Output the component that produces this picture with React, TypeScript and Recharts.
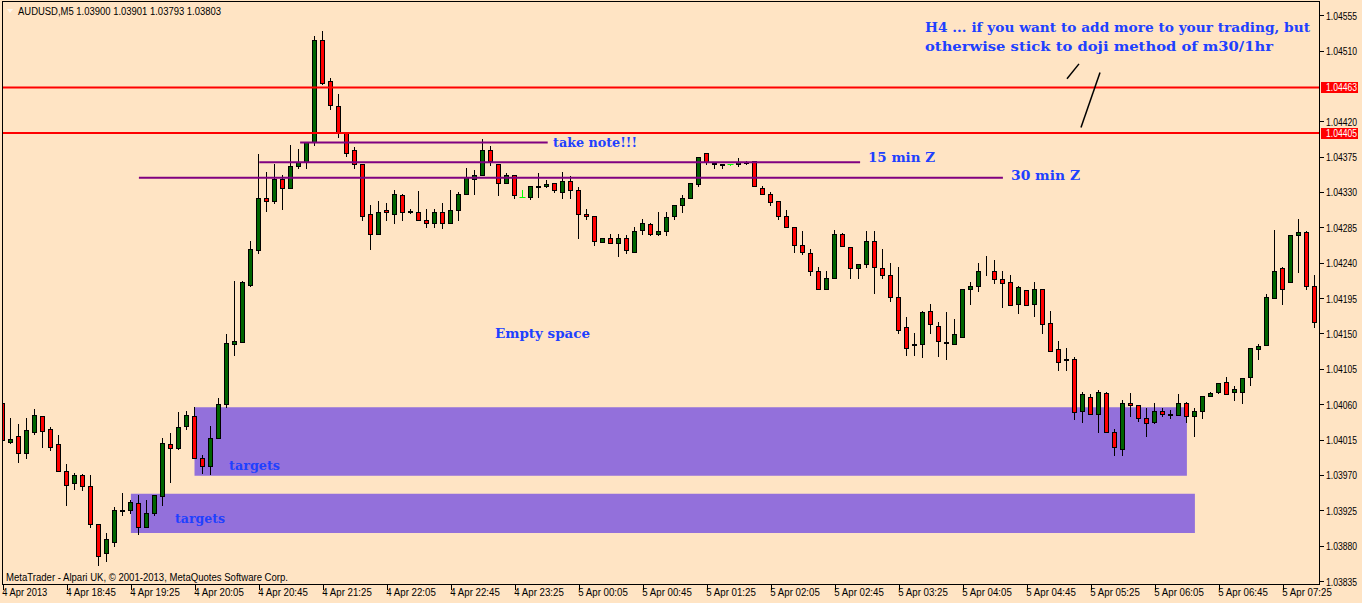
import { ComposedChart, Bar, XAxis, YAxis, ReferenceLine, ReferenceArea } from "recharts";

const W = 1362;
const H = 603;
const BG = "#FFE4C4";
const BLUE = "#2040FF";

// AUDUSD M5, one value per bar (4 Apr 18:05 .. 5 Apr 07:45)
const opens = [
  1.04061, 1.04012, 1.04019, 1.03998, 1.04025, 1.04045, 1.04029, 1.04009, 1.03975, 1.0396,
  1.0397, 1.03956, 1.03907, 1.03871, 1.03885, 1.03926, 1.03925, 1.03934, 1.03904, 1.03921,
  1.03943, 1.0401, 1.04004, 1.04032, 1.04045, 1.03992, 1.03982, 1.04017, 1.0406, 1.04137,
  1.04139, 1.04212, 1.04256, 1.04323, 1.04318, 1.04347, 1.04335, 1.04363, 1.04368, 1.04393,
  1.04523, 1.04471, 1.0444, 1.04405, 1.04383, 1.04365, 1.04302, 1.04276, 1.04307, 1.04302,
  1.04326, 1.04305, 1.04304, 1.04295, 1.04291, 1.04304, 1.0429, 1.04307, 1.04327, 1.04347,
  1.04351, 1.04383, 1.04365, 1.04342, 1.04351, 1.04324, 1.04324, 1.04336, 1.04337, 1.04341,
  1.0433, 1.04344, 1.04333, 1.04302, 1.04299, 1.04267, 1.04272, 1.04265, 1.04272, 1.04254,
  1.04282, 1.04289, 1.04277, 1.0428, 1.043, 1.04313, 1.04323, 1.0434, 1.04379, 1.04367,
  1.04364, 1.04365, 1.04365, 1.04367, 1.04369, 1.04335, 1.04327, 1.04318, 1.043, 1.04286,
  1.04263, 1.04252, 1.04229, 1.04206, 1.04221, 1.04277, 1.0426, 1.04233, 1.04239, 1.04268,
  1.04233, 1.04225, 1.04197, 1.04158, 1.04135, 1.04137, 1.04178, 1.0416, 1.04139, 1.04137,
  1.04146, 1.04207, 1.04211, 1.0423, 1.0423, 1.04219, 1.04216, 1.04188, 1.04205, 1.04188,
  1.04206, 1.04163, 1.0413, 1.04116, 1.04118, 1.04051, 1.04069, 1.04048, 1.04074, 1.04025,
  1.04003, 1.04061, 1.04059, 1.04043, 1.04037, 1.04051, 1.04046, 1.04046, 1.04062, 1.04045,
  1.04052, 1.04071, 1.04075, 1.04088, 1.04075, 1.04076, 1.04094, 1.0413, 1.04135, 1.04195,
  1.04233, 1.04215, 1.04275, 1.04279, 1.04211,
];
const highs = [
  1.04062, 1.04042, 1.04035, 1.04042, 1.04054, 1.04045, 1.04031, 1.04021, 1.03984, 1.03972,
  1.03971, 1.0397, 1.03907, 1.03896, 1.03929, 1.03947, 1.03938, 1.03944, 1.03938, 1.03944,
  1.04017, 1.04024, 1.0405, 1.04052, 1.04056, 1.03995, 1.04032, 1.04068, 1.04149, 1.04217,
  1.04217, 1.04268, 1.04378, 1.04355, 1.04366, 1.04351, 1.0439, 1.04385, 1.04393, 1.04528,
  1.04535, 1.04475, 1.04455, 1.04405, 1.04387, 1.04366, 1.04314, 1.04318, 1.04316, 1.04332,
  1.04327, 1.04308, 1.04331, 1.04309, 1.04309, 1.04316, 1.04332, 1.0433, 1.04361, 1.04358,
  1.04398, 1.04388, 1.04365, 1.04354, 1.04351, 1.04332, 1.04338, 1.04354, 1.04345, 1.04341,
  1.04355, 1.0435, 1.04336, 1.04309, 1.04299, 1.04272, 1.04276, 1.04276, 1.04275, 1.04285,
  1.04296, 1.0429, 1.04304, 1.04304, 1.04313, 1.04326, 1.04341, 1.04374, 1.0438, 1.04368,
  1.04366, 1.04365, 1.04373, 1.0437, 1.04369, 1.04337, 1.0433, 1.04318, 1.04307, 1.04286,
  1.04281, 1.04257, 1.04234, 1.04229, 1.04282, 1.04278, 1.0426, 1.04239, 1.0428, 1.04281,
  1.04257, 1.0424, 1.04235, 1.04171, 1.04151, 1.04178, 1.04187, 1.04165, 1.04177, 1.04168,
  1.04207, 1.04216, 1.0424, 1.04248, 1.04243, 1.04229, 1.04225, 1.0421, 1.04205, 1.04216,
  1.04206, 1.04179, 1.04141, 1.04131, 1.0412, 1.04075, 1.04073, 1.04078, 1.04076, 1.04029,
  1.04065, 1.04074, 1.04059, 1.04055, 1.04062, 1.04055, 1.04053, 1.04073, 1.04063, 1.04055,
  1.04071, 1.04076, 1.04087, 1.04095, 1.04083, 1.04093, 1.04132, 1.04136, 1.042, 1.04282,
  1.04234, 1.04275, 1.04296, 1.04281, 1.04225,
];
const lows = [
  1.04004, 1.04011, 1.03987, 1.03992, 1.04022, 1.04005, 1.04002, 1.03975, 1.03932, 1.03952,
  1.03951, 1.03904, 1.03855, 1.0386, 1.0388, 1.03919, 1.03921, 1.03895, 1.03904, 1.03919,
  1.03932, 1.03961, 1.04003, 1.04028, 1.03991, 1.03972, 1.03971, 1.04017, 1.04057, 1.04122,
  1.04139, 1.04211, 1.04253, 1.04306, 1.04316, 1.04309, 1.04335, 1.0436, 1.0436, 1.0439,
  1.04468, 1.04435, 1.044, 1.04376, 1.04361, 1.04295, 1.04258, 1.04276, 1.04295, 1.0429,
  1.04295, 1.04303, 1.04295, 1.04286, 1.04286, 1.04284, 1.0429, 1.04294, 1.04327, 1.04328,
  1.04351, 1.04364, 1.04326, 1.04342, 1.04322, 1.04324, 1.04321, 1.04324, 1.04336, 1.0433,
  1.04323, 1.04323, 1.04271, 1.04296, 1.04262, 1.04266, 1.04265, 1.04249, 1.04253, 1.04254,
  1.04277, 1.04275, 1.04275, 1.04275, 1.04296, 1.04304, 1.04322, 1.04338, 1.04366, 1.0436,
  1.04361, 1.04364, 1.04363, 1.04365, 1.04337, 1.04327, 1.04313, 1.04296, 1.04286, 1.04254,
  1.04251, 1.04225, 1.04206, 1.04206, 1.0422, 1.04261, 1.04221, 1.0422, 1.04235, 1.04202,
  1.04221, 1.04191, 1.04151, 1.04123, 1.04122, 1.0412, 1.0415, 1.04121, 1.04118, 1.04137,
  1.04146, 1.04188, 1.04204, 1.04225, 1.04214, 1.04184, 1.04186, 1.04176, 1.04186, 1.04172,
  1.0415, 1.04128, 1.04104, 1.04104, 1.04041, 1.04038, 1.04048, 1.04025, 1.04025, 1.03995,
  1.03996, 1.04045, 1.04039, 1.0402, 1.04036, 1.04045, 1.04042, 1.04046, 1.04038, 1.0402,
  1.04043, 1.04071, 1.04074, 1.04073, 1.04065, 1.04062, 1.04085, 1.04118, 1.04135, 1.04195,
  1.04188, 1.04215, 1.04228, 1.04206, 1.04158,
];
const closes = [
  1.04014, 1.04016, 1.03998, 1.04027, 1.04046, 1.04026, 1.04006, 1.03975, 1.03957, 1.0397,
  1.03956, 1.03907, 1.03867, 1.03888, 1.03926, 1.03924, 1.03935, 1.03904, 1.03922, 1.03944,
  1.04011, 1.04004, 1.04031, 1.04046, 1.03991, 1.03982, 1.04017, 1.0406, 1.04138, 1.0414,
  1.04215, 1.04257, 1.04323, 1.04318, 1.04346, 1.04335, 1.04363, 1.04368, 1.04393, 1.04523,
  1.04469, 1.04441, 1.04405, 1.04379, 1.04365, 1.043, 1.04276, 1.04305, 1.04304, 1.04327,
  1.04304, 1.04306, 1.04295, 1.0429, 1.04305, 1.0429, 1.04307, 1.04327, 1.04349, 1.04352,
  1.04383, 1.04369, 1.04341, 1.04351, 1.04326, 1.04324, 1.04337, 1.04337, 1.0434, 1.04333,
  1.04344, 1.04333, 1.04302, 1.04299, 1.04268, 1.04271, 1.04265, 1.04272, 1.04256, 1.04281,
  1.0429, 1.04276, 1.04281, 1.04298, 1.04313, 1.04322, 1.04341, 1.04374, 1.04368, 1.04366,
  1.04365, 1.04365, 1.04368, 1.04368, 1.04337, 1.04327, 1.04317, 1.04299, 1.04286, 1.04263,
  1.04254, 1.0423, 1.04206, 1.0422, 1.04276, 1.04261, 1.04233, 1.04239, 1.04268, 1.04234,
  1.04225, 1.04197, 1.04154, 1.04132, 1.04136, 1.04177, 1.04162, 1.04141, 1.04138, 1.04149,
  1.04207, 1.0421, 1.0423, 1.04229, 1.04219, 1.04214, 1.04186, 1.04209, 1.04186, 1.04206,
  1.04162, 1.04128, 1.04114, 1.04118, 1.0405, 1.04073, 1.04048, 1.04076, 1.04025, 1.04006,
  1.04061, 1.04059, 1.04043, 1.04036, 1.04051, 1.04047, 1.04047, 1.04062, 1.04045, 1.04051,
  1.04071, 1.04074, 1.04087, 1.04073, 1.04079, 1.04093, 1.04131, 1.04134, 1.04197, 1.04229,
  1.04207, 1.04275, 1.04279, 1.0421, 1.04165,
];

// one label every 8 bars
const timeLabels = [
  "4 Apr 2013", "4 Apr 18:45", "4 Apr 19:25", "4 Apr 20:05", "4 Apr 20:45", "4 Apr 21:25",
  "4 Apr 22:05", "4 Apr 22:45", "4 Apr 23:25", "5 Apr 00:05", "5 Apr 00:45", "5 Apr 01:25",
  "5 Apr 02:05", "5 Apr 02:45", "5 Apr 03:25", "5 Apr 04:05", "5 Apr 04:45", "5 Apr 05:25",
  "5 Apr 06:05", "5 Apr 06:45", "5 Apr 07:25",
];
const labelIdx = timeLabels.map((_, k) => k * 8);

const priceTicks = [
  1.04555, 1.0451, 1.0442, 1.04375, 1.0433, 1.04285, 1.0424, 1.04195, 1.0415, 1.04105,
  1.0406, 1.04015, 1.0397, 1.03925, 1.0388, 1.03835,
];
const levels = [1.04463, 1.04405];

// target zones and zone lines (bar index, price)
const zones = [
  { x1: 23.9, x2: 147.95, y1: 1.03969, y2: 1.04056 },
  { x1: 15.95, x2: 148.95, y1: 1.03896, y2: 1.03946 },
];
const zLines = [
  { from: 37.1, to: 68.05, price: 1.04393 },
  { from: 32.0, to: 107.1, price: 1.04368 },
  { from: 16.95, to: 124.95, price: 1.04348 },
];
const strokes = [
  { x1: 132.96, y1: 1.04474, x2: 134.46, y2: 1.04493 },
  { x1: 134.71, y1: 1.04412, x2: 137.09, y2: 1.04482 },
];

const rows = opens.map((o, i) => ({
  i,
  o,
  h: highs[i],
  l: lows[i],
  c: closes[i],
  range: [lows[i], highs[i]],
}));

const axisFont = { fontFamily: "'Liberation Sans', Arial, sans-serif", fontSize: 10 };
const noteFont = { fontFamily: "'DejaVu Serif', 'Liberation Serif', serif", fontWeight: 700, fontSize: 13 };

const Candle = (props: any) => {
  const { x, y, width, height, payload } = props;
  const top = Math.min(y, y + height);
  const bot = Math.max(y, y + height);
  const { o, h, l, c } = payload;
  const py = (v: number) => (h === l ? top : top + ((h - v) / (h - l)) * (bot - top));
  const cx = Math.floor(x + width / 2) + 0.5;
  if (o === c) {
    const yy = Math.round(py(o)) + 0.5;
    return (
      <g stroke="#00FF00">
        <line x1={cx} x2={cx} y1={Math.round(top)} y2={Math.round(bot) + 1} />
        <line x1={cx - 3} x2={cx + 3} y1={yy} y2={yy} />
      </g>
    );
  }
  const bt = Math.round(py(Math.max(o, c))) + 0.5;
  const bb = Math.round(py(Math.min(o, c))) + 0.5;
  return (
    <g>
      <line x1={cx} x2={cx} y1={Math.round(top)} y2={Math.round(bot) + 1} stroke="#000" />
      <rect x={cx - 2} y={bt} width={4} height={Math.max(bb - bt, 0)} fill={c > o ? "#006400" : "#FF0000"} stroke="#000" />
    </g>
  );
};

const PriceTick = (props: any) => {
  const { x, y, payload } = props;
  const v = payload.value as number;
  const label = v.toFixed(5);
  if (levels.includes(v)) {
    return (
      <g>
        <rect x={x + 2} y={Math.round(y) - 5} width={37} height={11} fill="#FF0000" />
        <text x={x + 7} y={y + 4} fill="#FFFFFF" {...axisFont} textLength={31} lengthAdjust="spacingAndGlyphs">
          {label}
        </text>
      </g>
    );
  }
  const yy = Math.round(y) + 0.5;
  return (
    <g>
      <line x1={x + 1} x2={x + 5} y1={yy} y2={yy} stroke="#000" />
      <text x={x + 7} y={y + 4.5} fill="#000" {...axisFont} textLength={31} lengthAdjust="spacingAndGlyphs">
        {label}
      </text>
    </g>
  );
};

const TimeTick = (props: any) => {
  const { x, y, payload } = props;
  const xx = Math.floor(x) + 0.5;
  const label = timeLabels[payload.value / 8];
  return (
    <g>
      <line x1={xx} x2={xx} y1={y} y2={y + 5} stroke="#000" />
      <text x={x - 1} y={y + 11} fill="#000" {...axisFont} textLength={label.length * 4.5} lengthAdjust="spacingAndGlyphs">
        {label}
      </text>
    </g>
  );
};

export default function App() {
  return (
    <div style={{ position: "absolute", left: 0, top: 0, width: W, height: H, background: BG }}>
      <ComposedChart width={W} height={H} data={rows} margin={{ top: 1, right: 0, bottom: 0, left: 2 }}>
        <XAxis
          dataKey="i"
          type="number"
          domain={[-0.1625, 164.4625]}
          allowDataOverflow
          ticks={labelIdx}
          interval={0}
          height={18}
          axisLine={false}
          tickLine={false}
          tickSize={0}
          tickMargin={0}
          tick={<TimeTick />}
        />
        <YAxis
          orientation="right"
          type="number"
          domain={[1.0383, 1.04573]}
          allowDataOverflow
          ticks={[...priceTicks, ...levels]}
          interval={0}
          width={43}
          axisLine={false}
          tickLine={false}
          tickSize={0}
          tickMargin={0}
          tick={<PriceTick />}
        />
        {zones.map((z, k) => (
          <ReferenceArea key={k} x1={z.x1} x2={z.x2} y1={z.y1} y2={z.y2} fill="#9370DB" fillOpacity={1} stroke="none" />
        ))}
        <Bar dataKey="range" barSize={5} isAnimationActive={false} shape={(p: any) => <Candle {...p} />} />
        {levels.map((v) => (
          <ReferenceLine key={v} y={v} stroke="#FF0000" strokeWidth={2} />
        ))}
        {zLines.map((s, k) => (
          <ReferenceLine
            key={k}
            segment={[{ x: s.from, y: s.price }, { x: s.to, y: s.price }]}
            stroke="#800080"
            strokeWidth={2}
          />
        ))}
        {strokes.map((s, k) => (
          <ReferenceLine
            key={k}
            segment={[{ x: s.x1, y: s.y1 }, { x: s.x2, y: s.y2 }]}
            stroke="#000"
            strokeWidth={1.5}
          />
        ))}
      </ComposedChart>
      <svg width={W} height={H} style={{ position: "absolute", left: 0, top: 0, pointerEvents: "none" }}>
        <rect x={2.5} y={1.5} width={1317} height={583} fill="none" stroke="#000" />
        <path d="M7 9 L13 9 L10 13 Z" fill="#FFF6EA" />
        <text x={18} y={15} fill="#000" {...axisFont} textLength={203} lengthAdjust="spacingAndGlyphs">
          AUDUSD,M5  1.03900 1.03901 1.03793 1.03803
        </text>
        <text x={6} y={581} fill="#000" {...axisFont} textLength={282} lengthAdjust="spacingAndGlyphs">
          MetaTrader - Alpari UK, © 2001-2013, MetaQuotes Software Corp.
        </text>
        <g fill={BLUE} {...noteFont}>
          <text x={925} y={32} textLength={385} lengthAdjust="spacingAndGlyphs">H4 ... if you want to add more to your trading, but</text>
          <text x={925} y={51} textLength={348} lengthAdjust="spacingAndGlyphs">otherwise stick to doji method of m30/1hr</text>
          <text x={553} y={147} textLength={84} lengthAdjust="spacingAndGlyphs">take note!!!</text>
          <text x={868} y={162} textLength={67} lengthAdjust="spacingAndGlyphs">15 min Z</text>
          <text x={1011} y={180} textLength={69} lengthAdjust="spacingAndGlyphs">30 min Z</text>
          <text x={495} y={338} textLength={95} lengthAdjust="spacingAndGlyphs">Empty space</text>
          <text x={229} y={470} textLength={51} lengthAdjust="spacingAndGlyphs">targets</text>
          <text x={175} y={523} textLength={50} lengthAdjust="spacingAndGlyphs">targets</text>
        </g>
      </svg>
    </div>
  );
}
